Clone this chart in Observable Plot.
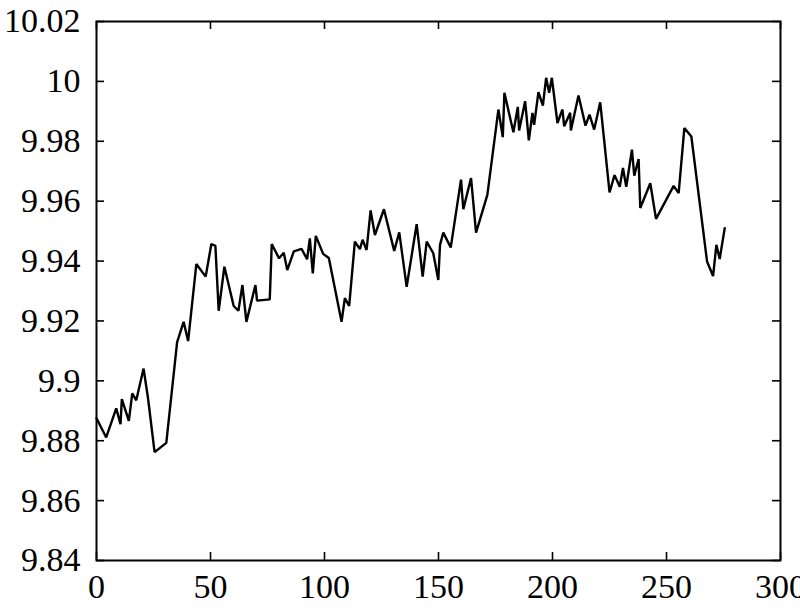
<!DOCTYPE html>
<html>
<head>
<meta charset="utf-8">
<script src="https://cdn.jsdelivr.net/npm/d3@7"></script>
<script src="https://cdn.jsdelivr.net/npm/@observablehq/plot@0.6"></script>
<style>
  html, body { margin: 0; padding: 0; background: #fff; }
  #chart svg { display: block; }
</style>
</head>
<body>
<div id="chart"></div>
<script>
const xs = [0, 4.26, 8.65, 10.54, 11.11, 14.19, 15.68, 17.44, 20.64, 22.53,
  25.48, 30.61, 35.36, 38.21, 40.19, 43.79, 47.88, 50.38, 52.14, 53.59,
  56.09, 60.17, 62.24, 64.0, 65.75, 69.71, 70.41, 75.99, 76.87, 80.07,
  82.13, 83.67, 86.53, 89.91, 92.37, 93.56, 94.87, 96.19, 99.4, 101.9,
  107.48, 108.93, 110.82, 113.32, 115.52, 116.7, 118.46, 120.22, 122.11, 126.06,
  130.58, 132.78, 136.03, 140.42, 143.06, 144.82, 147.71, 149.91, 150.66, 152.11,
  155.36, 159.88, 160.89, 164.27, 166.47, 171.43, 176.27, 178.2, 178.9, 182.85,
  184.78, 185.36, 187.99, 189.62, 191.2, 191.94, 193.83, 195.77, 197.21, 198.53,
  199.71, 202.18, 204.37, 205.12, 207.75, 208.06, 211.4, 214.48, 216.23, 218.29,
  220.93, 225.02, 227.21, 229.5, 230.9, 232.35, 234.85, 235.86, 237.76, 238.5,
  242.89, 245.4, 253.13, 255.33, 257.83, 260.9, 267.8, 270.43, 271.88, 273.33,
  275.54];
const ys = [9.8875, 9.8811, 9.8908, 9.8855, 9.8939, 9.8866, 9.8958, 9.8935, 9.9041, 9.8946,
  9.8762, 9.8793, 9.9129, 9.9197, 9.9133, 9.9390, 9.9348, 9.9457, 9.9451, 9.9234,
  9.9381, 9.9250, 9.9234, 9.9320, 9.9197, 9.9320, 9.9268, 9.9272, 9.9457, 9.9409,
  9.9428, 9.9370, 9.9432, 9.9441, 9.9406, 9.9476, 9.9359, 9.9484, 9.9424, 9.9410,
  9.9197, 9.9276, 9.9250, 9.9465, 9.9440, 9.9471, 9.9437, 9.9569, 9.9487, 9.9573,
  9.9434, 9.9496, 9.9314, 9.9523, 9.9348, 9.9465, 9.9426, 9.9337, 9.9454, 9.9495,
  9.9445, 9.9672, 9.9573, 9.9677, 9.9495, 9.9621, 9.9906, 9.9814, 9.9962, 9.9830,
  9.9915, 9.9836, 9.9934, 9.9803, 9.9895, 9.9855, 9.9964, 9.9919, 10.0012, 9.9962,
  10.0012, 9.9861, 9.9906, 9.9850, 9.9895, 9.9836, 9.9953, 9.9852, 9.9889, 9.9839,
  9.9930, 9.9629, 9.9687, 9.9648, 9.9711, 9.9648, 9.9772, 9.9685, 9.9741, 9.9577,
  9.9660, 9.9541, 9.9651, 9.9627, 9.9844, 9.9816, 9.9398, 9.9350, 9.9454, 9.9407,
  9.9510];

const xTicks = [0, 50, 100, 150, 200, 250, 300];
const xTickLabels = ["0", "50", "100", "150", "200", "250", "300"];
const yTicks = [9.84, 9.86, 9.88, 9.90, 9.92, 9.94, 9.96, 9.98, 10.00, 10.02];
const yTickLabels = ["9.84", "9.86", "9.88", "9.9", "9.92", "9.94", "9.96", "9.98", "10", "10.02"];

const data = xs.map((x, i) => ({x, y: ys[i]}));

const W = 800, H = 614;
const mL = 96, mR = 20, mT = 21, mB = 54;
const innerW = W - mL - mR, innerH = H - mT - mB;
const tickLen = 8;
const serif = "Liberation Serif";

const chart = Plot.plot({
  width: W,
  height: H,
  marginLeft: mL,
  marginRight: mR,
  marginTop: mT,
  marginBottom: mB,
  style: {fontSize: "34px", color: "#000", background: "#fff"},
  x: {domain: [0, 300], ticks: xTicks},
  y: {domain: [9.84, 10.02], ticks: yTicks},
  marks: [
    Plot.axisX(xTicks, {anchor: "bottom", tickSize: 0, tickPadding: 13, fontSize: 34, fontFamily: serif,
      tickFormat: (d) => xTickLabels[xTicks.indexOf(d)], label: null}),
    Plot.axisY(yTicks, {anchor: "left", tickSize: 0, tickPadding: 16, fontSize: 34, fontFamily: serif,
      tickFormat: (d) => yTickLabels[yTicks.indexOf(d)], label: null}),
    // inward tick marks on all four sides
    Plot.ruleX(xTicks, {x: d => d, insetTop: innerH - tickLen, stroke: "#000", strokeWidth: 1.6}),
    Plot.ruleX(xTicks, {x: d => d, insetBottom: innerH - tickLen, stroke: "#000", strokeWidth: 1.6}),
    Plot.ruleY(yTicks, {y: d => d, insetRight: innerW - tickLen, stroke: "#000", strokeWidth: 1.6}),
    Plot.ruleY(yTicks, {y: d => d, insetLeft: innerW - tickLen, stroke: "#000", strokeWidth: 1.6}),
    Plot.line(data, {x: "x", y: "y", stroke: "#000", strokeWidth: 2.4, strokeLinejoin: "miter"}),
    Plot.frame({stroke: "#000", strokeWidth: 2})
  ]
});

chart.style.setProperty("font-family", "'Liberation Serif', serif", "important");
chart.querySelectorAll("text, tspan, g").forEach((el) => {
  el.setAttribute("font-family", "Liberation Serif");
  el.style.setProperty("font-family", "'Liberation Serif', serif", "important");
});
document.getElementById("chart").appendChild(chart);
</script>
</body>
</html>
